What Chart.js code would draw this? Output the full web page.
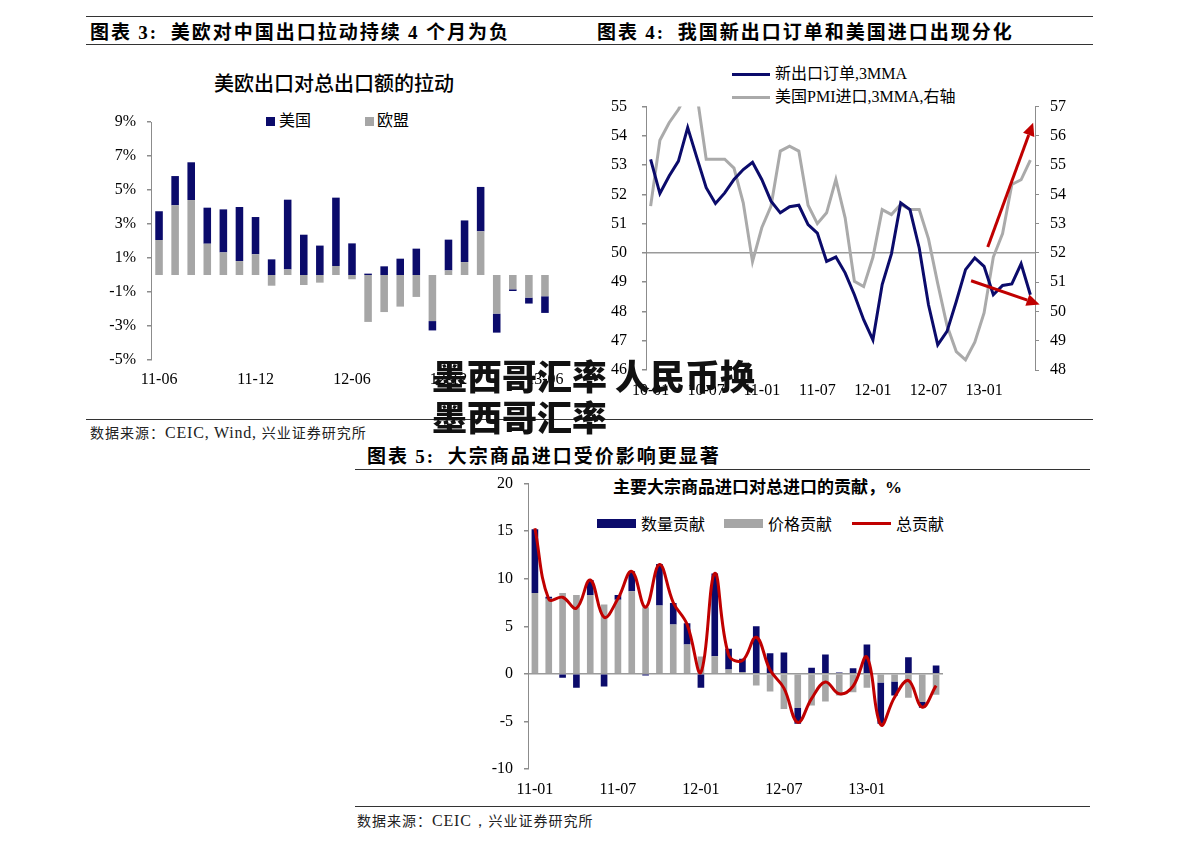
<!DOCTYPE html>
<html>
<head>
<meta charset="utf-8">
<script src="https://cdn.jsdelivr.net/npm/chart.js@4.4.1/dist/chart.umd.min.js"></script>
<style>
  body { margin: 0; background: #fff; }
  #page { position: relative; width: 1191px; height: 850px; overflow: hidden; background: #fff; }
  .t { position: absolute; white-space: nowrap; line-height: 1; color: #000; }
  .hd { font-family: 'Noto Sans CJK SC', sans-serif; font-weight: 700; font-size: 19px; letter-spacing: 2px; }
  .hd b { font-family: 'Liberation Serif', serif; font-weight: 700; }
  .src { font-family: 'Noto Sans CJK SC', sans-serif; font-size: 14px; color: #222; letter-spacing: 1px; }
  .src span { font-family: 'Liberation Serif', serif; font-size: 16px; letter-spacing: 0.8px; }
  .rule { position: absolute; height: 0; border-top: 1.5px solid #333; }
  .lg { font-family: 'Liberation Serif', 'Noto Sans CJK SC', serif; font-size: 16px; }
  .sw { position: absolute; }
  .mark { position: absolute; white-space: nowrap; line-height: 1; font-family: 'Noto Sans CJK SC', sans-serif; font-weight: 900; font-size: 35px; color: #111; z-index: 10; }
  canvas { position: absolute; }
</style>
</head>
<body>
<div id="page">
  <!-- headers -->
  <div class="rule" style="left:86px; top:16px; width:1007px;"></div>
  <div class="rule" style="left:86px; top:44px; width:1007px;"></div>
  <div class="t hd" style="left:90px; top:21px;">图表 <b>3:</b>&nbsp; 美欧对中国出口拉动持续 <b>4</b> 个月为负</div>
  <div class="t hd" style="left:597px; top:21px;">图表 <b>4:</b>&nbsp; 我国新出口订单和美国进口出现分化</div>

  <!-- chart 3 -->
  <div class="t" style="left:214px; top:73px; font-family:'Noto Sans CJK SC'; font-size:20px; font-weight:500;">美欧出口对总出口额的拉动</div>
  <div class="sw" style="left:266px; top:117px; width:9px; height:9px; background:#0b0b6b;"></div>
  <div class="t lg" style="left:279px; top:113px;">美国</div>
  <div class="sw" style="left:365px; top:117px; width:9px; height:9px; background:#a6a6a6;"></div>
  <div class="t lg" style="left:377px; top:113px;">欧盟</div>
  <canvas id="c3" width="490" height="302" style="left:80px; top:100px;"></canvas>

  <!-- chart 4 -->
  <div class="sw" style="left:732px; top:73px; width:38px; height:3px; background:#0b0b6b;"></div>
  <div class="t lg" style="left:775px; top:66px;">新出口订单,3MMA</div>
  <div class="sw" style="left:732px; top:96px; width:38px; height:3px; background:#aaaaaa;"></div>
  <div class="t lg" style="left:775px; top:89px;">美国PMI进口,3MMA,右轴</div>
  <canvas id="c4" width="490" height="318" style="left:590px; top:82px;"></canvas>

  <div class="rule" style="left:86px; top:419px; width:1007px;"></div>
  <div class="t src" style="left:90px; top:425px;">数据来源：<span>CEIC, Wind, </span>兴业证券研究所</div>

  <!-- chart 5 -->
  <div class="t hd" style="left:367px; top:445px;">图表 <b>5:</b>&nbsp; 大宗商品进口受价影响更显著</div>
  <div class="rule" style="left:355px; top:469px; width:735px;"></div>
  <div class="t" style="left:613px; top:477px; font-family:'Noto Sans CJK SC'; font-size:17px; font-weight:700;">主要大宗商品进口对总进口的贡献，<span style="font-family:'Liberation Serif'">%</span></div>
  <div class="sw" style="left:597px; top:519px; width:39px; height:9px; background:#0b0b6b;"></div>
  <div class="t" style="left:641px; top:515px; font-family:'Noto Sans CJK SC'; font-size:16px;">数量贡献</div>
  <div class="sw" style="left:724px; top:519px; width:39px; height:9px; background:#a6a6a6;"></div>
  <div class="t" style="left:768px; top:515px; font-family:'Noto Sans CJK SC'; font-size:16px;">价格贡献</div>
  <div class="sw" style="left:852px; top:522px; width:39px; height:3px; background:#c00000;"></div>
  <div class="t" style="left:896px; top:515px; font-family:'Noto Sans CJK SC'; font-size:16px;">总贡献</div>
  <canvas id="c5" width="490" height="338" style="left:470px; top:463px;"></canvas>

  <div class="rule" style="left:355px; top:806px; width:735px;"></div>
  <div class="t src" style="left:357px; top:813px;">数据来源：<span>CEIC，</span>兴业证券研究所</div>

  <!-- overlay text -->
  <div class="mark" style="left:432px; top:357px;">墨西哥汇率 人民币换</div>
  <div class="mark" style="left:432px; top:398px;">墨西哥汇率</div>
</div>

<script>
  // month labels like 11-06
  function monthLabels(yy, mm, n) {
    const out = [];
    for (let k = 0; k < n; k++) {
      const y = yy + Math.floor((mm - 1 + k) / 12);
      const m = (mm - 1 + k) % 12 + 1;
      out.push(String(y).padStart(2, '0') + '-' + String(m).padStart(2, '0'));
    }
    return out;
  }

  // 图表3 data (%), 11-06 .. 13-06
  const c3Months = monthLabels(11, 6, 25);
  const usPull = [1.69, 1.72, 2.22, 2.12, 2.53, 3.18, 2.19, 0.92, 4.10, 2.37, 1.73, 4.02, 1.86, 0.08, 0.51, 0.96, 1.55, -0.55, 1.81, 2.45, 2.61, -1.12, -0.10, -0.35, -0.98];
  const euPull = [2.06, 4.10, 4.41, 1.84, 1.33, 0.82, 1.22, -0.63, 0.33, -0.59, -0.45, 0.53, -0.25, -2.76, -2.18, -1.86, -1.29, -2.71, 0.27, 0.76, 2.57, -2.27, -0.84, -1.33, -1.25];

  // 图表4 data, 10-01 .. 13-06
  const c4Months = monthLabels(10, 1, 42);
  const newExportOrders = [53.2, 52.03, 52.63, 53.14, 54.28, 53.25, 52.23, 51.69, 52.05, 52.51, 52.85, 53.1, 52.51, 51.77, 51.37, 51.58, 51.63, 50.97, 50.68, 49.71, 49.86, 49.32, 48.57, 47.72, 47.03, 48.92, 49.97, 51.71, 51.48, 50.17, 48.23, 46.86, 47.32, 48.34, 49.43, 49.83, 49.54, 48.57, 48.89, 48.94, 49.63, 48.57];
  const usPmiImports = [53.6, 55.85, 56.45, 56.9, 57.5, 57.4, 55.2, 55.2, 55.2, 54.9, 53.71, 51.7, 52.86, 53.6, 55.48, 55.65, 55.48, 53.63, 53.0, 53.37, 54.51, 53.2, 51.03, 50.85, 51.85, 53.48, 53.31, 53.66, 53.48, 53.48, 52.48, 50.95, 49.52, 48.63, 48.35, 48.95, 49.95, 51.86, 52.66, 54.34, 54.5, 55.17];
  // annotation arrows in (category index, left-axis value)
  const divergeArrows = [
    { from: [36.4, 50.2], to: [41.3, 54.45] },
    { from: [34.6, 49.05], to: [42.0, 48.24] }
  ];

  // 图表5 data (%), 11-01 .. 13-06
  const c5Months = monthLabels(11, 1, 30);
  const qtyContrib = [6.7, 0.2, -0.42, -1.47, 1.57, -1.33, 0.5, 2.1, -0.17, 4.37, 2.28, 2.24, -1.47, 8.7, 2.18, 1.4, 5.0, 2.17, 2.24, -1.65, 0.63, 2.03, 0.15, 0.6, 3.08, -4.35, -1.47, 1.75, -0.6, 0.88];
  const priceContrib = [8.5, 7.9, 8.5, 8.3, 8.3, 7.28, 7.8, 8.68, 7.0, 7.18, 5.18, 3.08, 1.82, 1.86, 0.45, 0.2, -1.23, -1.86, -3.68, -3.6, -3.33, -2.9, -2.27, -1.93, -1.47, -0.9, -0.8, -2.52, -2.97, -2.2];
  const totalContrib = [15.3, 7.85, 8.05, 6.9, 9.87, 5.95, 7.9, 10.78, 7.0, 11.5, 7.5, 5.2, 0.17, 10.57, 2.0, 1.4, 3.85, 0.4, -1.5, -5.1, -2.6, -0.85, -2.1, -1.3, 1.75, -5.35, -2.45, -0.7, -3.5, -1.23];

  const NAVY = '#0b0b6b';
  const GRAY = '#a6a6a6';
  const AXIS = '#8c8c8c';

  Chart.defaults.font.family = "'Liberation Serif', 'Noto Sans CJK SC', serif";
  Chart.defaults.font.size = 16;
  Chart.defaults.color = '#000';

  const every6 = function(val, i) { return i % 6 === 0 ? this.getLabelForValue(val) : ''; };

  function xAxis(h, pad) {
    return {
      stacked: true,
      grid: { display: false },
      border: { display: false },
      ticks: { autoSkip: false, maxRotation: 0, padding: pad, callback: every6 },
      afterFit: s => { s.height = h; }
    };
  }

  function yGrid(zero) {
    return {
      color: ctx => ctx.tick && ctx.tick.value === zero ? '#9a9a9a' : 'rgba(0,0,0,0)',
      lineWidth: 1.5,
      tickColor: AXIS,
      tickLength: 4
    };
  }

  // Chart 3
  new Chart(document.getElementById('c3'), {
    type: 'bar',
    data: {
      labels: c3Months,
      datasets: [
        { label: '欧盟', data: euPull, backgroundColor: GRAY },
        { label: '美国', data: usPull, backgroundColor: NAVY }
      ]
    },
    options: {
      responsive: false,
      animation: false,
      layout: { padding: { top: 22, right: 17, left: 0, bottom: 0 } },
      datasets: { bar: { barPercentage: 0.47, categoryPercentage: 1 } },
      plugins: { legend: { display: false }, tooltip: { enabled: false } },
      scales: {
        x: xAxis(42, 2),
        y: {
          stacked: true, min: -5, max: 9,
          ticks: { stepSize: 2, padding: 11, callback: v => v + '%' },
          grid: yGrid(0),
          border: { color: AXIS, width: 1 },
          afterFit: s => { s.width = 71; }
        }
      }
    }
  });

  // arrows for chart 4
  const arrowPlugin = {
    id: 'arrows',
    afterDatasetsDraw(chart) {
      const { ctx, scales: { x, y } } = chart;
      ctx.save();
      ctx.strokeStyle = '#c00000';
      ctx.fillStyle = '#c00000';
      ctx.lineWidth = 3;
      divergeArrows.forEach(a => {
        const x1 = x.getPixelForValue(a.from[0]), y1 = y.getPixelForValue(a.from[1]);
        const x2 = x.getPixelForValue(a.to[0]), y2 = y.getPixelForValue(a.to[1]);
        const ang = Math.atan2(y2 - y1, x2 - x1);
        const hl = 13, hw = 6;
        const bx = x2 - hl * Math.cos(ang), by = y2 - hl * Math.sin(ang);
        ctx.beginPath();
        ctx.moveTo(x1, y1);
        ctx.lineTo(bx, by);
        ctx.stroke();
        ctx.beginPath();
        ctx.moveTo(x2, y2);
        ctx.lineTo(bx + hw * Math.sin(ang), by - hw * Math.cos(ang));
        ctx.lineTo(bx - hw * Math.sin(ang), by + hw * Math.cos(ang));
        ctx.closePath();
        ctx.fill();
      });
      ctx.restore();
    }
  };

  // Chart 4
  new Chart(document.getElementById('c4'), {
    type: 'line',
    data: {
      labels: c4Months,
      datasets: [
        { label: '新出口订单,3MMA', data: newExportOrders, borderColor: NAVY, borderWidth: 3, pointRadius: 0, tension: 0, yAxisID: 'y' },
        { label: '美国PMI进口,3MMA,右轴', data: usPmiImports, borderColor: '#aaaaaa', borderWidth: 3, pointRadius: 0, tension: 0, yAxisID: 'y2' }
      ]
    },
    options: {
      responsive: false,
      animation: false,
      layout: { padding: { top: 16, right: 0, left: 0, bottom: 0 } },
      plugins: { legend: { display: false }, tooltip: { enabled: false } },
      scales: {
        x: Object.assign(xAxis(30, 3), { offset: true, stacked: false }),
        y: {
          position: 'left', min: 46, max: 55,
          ticks: { stepSize: 1, padding: 15 },
          grid: yGrid(50),
          border: { color: AXIS, width: 1 },
          afterFit: s => { s.width = 56; }
        },
        y2: {
          position: 'right', min: 48, max: 57,
          ticks: { stepSize: 1, padding: 11 },
          grid: { drawOnChartArea: false, tickColor: AXIS, tickLength: 4 },
          border: { color: AXIS, width: 1 },
          afterFit: s => { s.width = 45; }
        }
      }
    },
    plugins: [arrowPlugin]
  });

  // Chart 5
  new Chart(document.getElementById('c5'), {
    type: 'bar',
    data: {
      labels: c5Months,
      datasets: [
        { type: 'line', label: '总贡献', data: totalContrib, borderColor: '#c00000', borderWidth: 3, pointRadius: 0, tension: 0.4, stack: 'line', order: 0 },
        { label: '价格贡献', data: priceContrib, backgroundColor: GRAY, stack: 'bars', order: 1 },
        { label: '数量贡献', data: qtyContrib, backgroundColor: NAVY, stack: 'bars', order: 1 }
      ]
    },
    options: {
      responsive: false,
      animation: false,
      layout: { padding: { top: 13, right: 17, left: 0, bottom: 0 } },
      datasets: { bar: { barPercentage: 0.48, categoryPercentage: 1 } },
      plugins: { legend: { display: false }, tooltip: { enabled: false } },
      scales: {
        x: xAxis(32, 3),
        y: {
          stacked: true, min: -10, max: 20,
          ticks: { stepSize: 5, padding: 11 },
          grid: yGrid(0),
          border: { color: AXIS, width: 1 },
          afterFit: s => { s.width = 58; }
        }
      }
    }
  });
</script>
</body>
</html>
